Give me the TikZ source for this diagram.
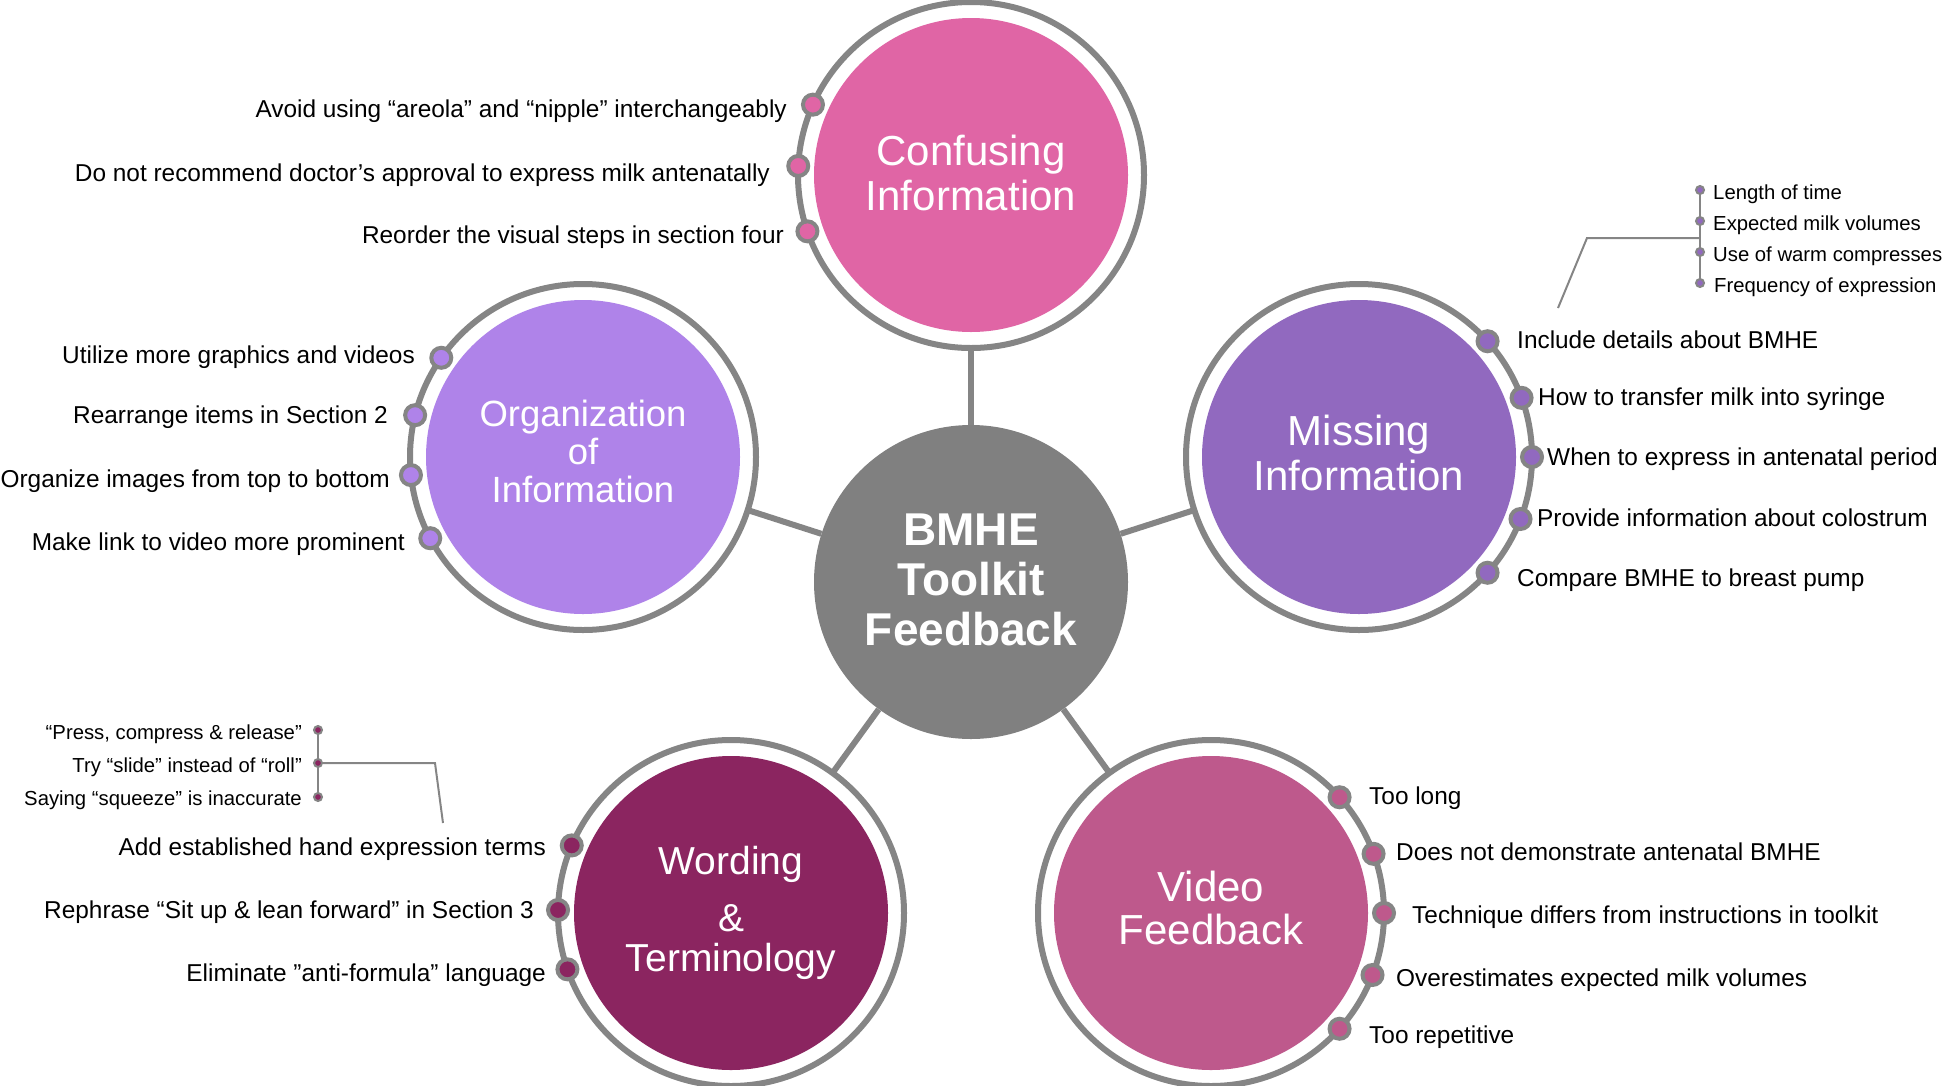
\documentclass[tikz,border=0pt]{standalone}
\usepackage{fontspec}
\setmainfont{Liberation Sans}
\definecolor{confc}{HTML}{E065A5}
\definecolor{orgc}{HTML}{AF83E9}
\definecolor{missc}{HTML}{9169BF}
\definecolor{wordc}{HTML}{8B2560}
\definecolor{vidc}{HTML}{BE598C}
\definecolor{hubc}{HTML}{808080}
\definecolor{ringc}{HTML}{858585}
\begin{document}
\begin{tikzpicture}[x=1pt,y=-1pt,
  ring/.style={circle,draw=ringc,line width=6pt,fill=white,minimum size=346pt,inner sep=0pt,outer sep=0pt},
  topic/.style={circle,minimum size=314pt,inner sep=0pt,text=white,align=center,font=\fontsize{42}{45}\selectfont},
  conn/.style={draw=ringc,line width=6pt},
  dot/.style={circle,draw=ringc,line width=4pt,minimum size=20pt,inner sep=0pt},
  lbl/.style={inner sep=0pt,font=\fontsize{24.4}{28}\selectfont},
  sublbl/.style={inner sep=0pt,font=\fontsize{20.3}{24}\selectfont},
  subdot/.style={circle,draw=ringc,line width=2pt,minimum size=8pt,inner sep=0pt},
  thinline/.style={draw=ringc,line width=2pt}]
\useasboundingbox (0,0) rectangle (1944,1085);

% rings
\node[ring] (confring) at (971,175) {};
\node[ring] (orgring) at (583,457) {};
\node[ring] (missring) at (1359,457) {};
\node[ring] (wordring) at (731,913) {};
\node[ring] (vidring) at (1211,913) {};

% central hub
\node[topic,fill=hubc,font=\fontsize{46}{50}\selectfont\bfseries] (hub) at (971,582) {BMHE\\Toolkit\\Feedback\\[-46pt]\mbox{}};

% connectors
\draw[conn] (hub) -- (confring);
\draw[conn] (hub) -- (orgring);
\draw[conn] (hub) -- (missring);
\draw[conn] (hub) -- (wordring);
\draw[conn] (hub) -- (vidring);

% topic circles
\node[topic,fill=confc] (conf) at (confring) {Confusing\\Information\\[-40pt]\mbox{}};
\node[topic,fill=orgc,font=\fontsize{36.5}{38}\selectfont] (org) at (orgring) {Organization\\of\\Information\\[-26pt]\mbox{}};
\node[topic,fill=missc] (miss) at (missring) {Missing\\Information\\[-37pt]\mbox{}};
\node[topic,fill=wordc,font=\fontsize{39}{42}\selectfont] (word) at (wordring) {Wording\\[15pt]\&\\[-2pt]Terminology};
\node[topic,fill=vidc,font=\fontsize{42}{43}\selectfont] (vid) at (vidring) {Video\\Feedback\\[-33pt]\mbox{}};

% Confusing information
\node[dot,fill=confc] (cd1) at (confring.156.8) {};
\node[dot,fill=confc] (cd2) at (confring.177.7) {};
\node[dot,fill=confc] (cd3) at (confring.199.3) {};
\node[lbl,anchor=base east] (cl1) at (787,117) {Avoid using “areola” and “nipple” interchangeably};
\node[lbl,anchor=base east] (cl2) at (770,181) {Do not recommend doctor’s approval to express milk antenatally};
\node[lbl,anchor=base east] (cl3) at (784,243) {Reorder the visual steps in section four};

% Organization of information
\node[dot,fill=orgc] (od1) at (orgring.145.0) {};
\node[dot,fill=orgc] (od2) at (orgring.166.0) {};
\node[dot,fill=orgc] (od3) at (orgring.186.7) {};
\node[dot,fill=orgc] (od4) at (orgring.208.2) {};
\node[lbl,anchor=base east] (ol1) at (415,363) {Utilize more graphics and videos};
\node[lbl,anchor=base east] (ol2) at (388,423) {Rearrange items in Section 2};
\node[lbl,anchor=base east] (ol3) at (390,487) {Organize images from top to bottom};
\node[lbl,anchor=base east] (ol4) at (405,550) {Make link to video more prominent};

% Missing information
\node[dot,fill=missc] (md1) at (missring.42.2) {};
\node[dot,fill=missc] (md2) at (missring.20.2) {};
\node[dot,fill=missc] (md3) at (missring.0.3) {};
\node[dot,fill=missc] (md4) at (missring.-21.3) {};
\node[dot,fill=missc] (md5) at (missring.-42.9) {};
\node[lbl,anchor=base west] (ml1) at (1517,348) {Include details about BMHE};
\node[lbl,anchor=base west] (ml2) at (1538,405) {How to transfer milk into syringe};
\node[lbl,anchor=base west] (ml3) at (1547,465) {When to express in antenatal period};
\node[lbl,anchor=base west] (ml4) at (1537,526) {Provide information about colostrum};
\node[lbl,anchor=base west] (ml5) at (1517,586) {Compare BMHE to breast pump};

% Missing information sub-items
\node[subdot,fill=missc] (ms1) at (1700,190) {};
\node[subdot,fill=missc] (ms2) at (1700,221) {};
\node[subdot,fill=missc] (ms3) at (1700,252) {};
\node[subdot,fill=missc] (ms4) at (1700,283) {};
\draw[thinline] (ms1) -- (ms2);
\draw[thinline] (ms2) -- (ms3);
\draw[thinline] (ms3) -- (ms4);
\node[sublbl,anchor=base west] (msl1) at (1713,199) {Length of time};
\node[sublbl,anchor=base west] (msl2) at (1713,230) {Expected milk volumes};
\node[sublbl,anchor=base west] (msl3) at (1713,261) {Use of warm compresses};
\node[sublbl,anchor=base west] (msl4) at (1714,292) {Frequency of expression};
\coordinate (mk0) at (1700,238);
\coordinate (mk1) at (1587,238);
\coordinate (mk2) at (1558,308);
\draw[thinline] (mk0) -- (mk1) -- (mk2);

% Wording & terminology
\node[dot,fill=wordc] (wd1) at (wordring.157.7) {};
\node[dot,fill=wordc] (wd2) at (wordring.179.0) {};
\node[dot,fill=wordc] (wd3) at (wordring.199.6) {};
\node[lbl,anchor=base east] (wl1) at (546,855) {Add established hand expression terms};
\node[lbl,anchor=base east] (wl2) at (534,918) {Rephrase “Sit up \& lean forward” in Section 3};
\node[lbl,anchor=base east] (wl3) at (546,981) {Eliminate ”anti-formula” language};

% Wording sub-items
\node[subdot,fill=wordc] (ws1) at (318,730) {};
\node[subdot,fill=wordc] (ws2) at (318,763) {};
\node[subdot,fill=wordc] (ws3) at (318,797) {};
\draw[thinline] (ws1) -- (ws2);
\draw[thinline] (ws2) -- (ws3);
\node[sublbl,anchor=base east] (wsl1) at (302,739) {“Press, compress \& release”};
\node[sublbl,anchor=base east] (wsl2) at (302,772) {Try “slide” instead of “roll”};
\node[sublbl,anchor=base east] (wsl3) at (302,805) {Saying “squeeze” is inaccurate};
\coordinate (wk1) at (435,763);
\coordinate (wk2) at (443,823);
\draw[thinline] (ws2) -- (wk1) -- (wk2);

% Video feedback
\node[dot,fill=vidc] (vd1) at (vidring.42.2) {};
\node[dot,fill=vidc] (vd2) at (vidring.20.9) {};
\node[dot,fill=vidc] (vd3) at (vidring.0) {};
\node[dot,fill=vidc] (vd4) at (vidring.-21.4) {};
\node[dot,fill=vidc] (vd5) at (vidring.-42.7) {};
\node[lbl,anchor=base west] (vl1) at (1369,804) {Too long};
\node[lbl,anchor=base west] (vl2) at (1396,860) {Does not demonstrate antenatal BMHE};
\node[lbl,anchor=base west] (vl3) at (1412,923) {Technique differs from instructions in toolkit};
\node[lbl,anchor=base west] (vl4) at (1396,986) {Overestimates expected milk volumes};
\node[lbl,anchor=base west] (vl5) at (1369,1043) {Too repetitive};
\end{tikzpicture}
\end{document}
